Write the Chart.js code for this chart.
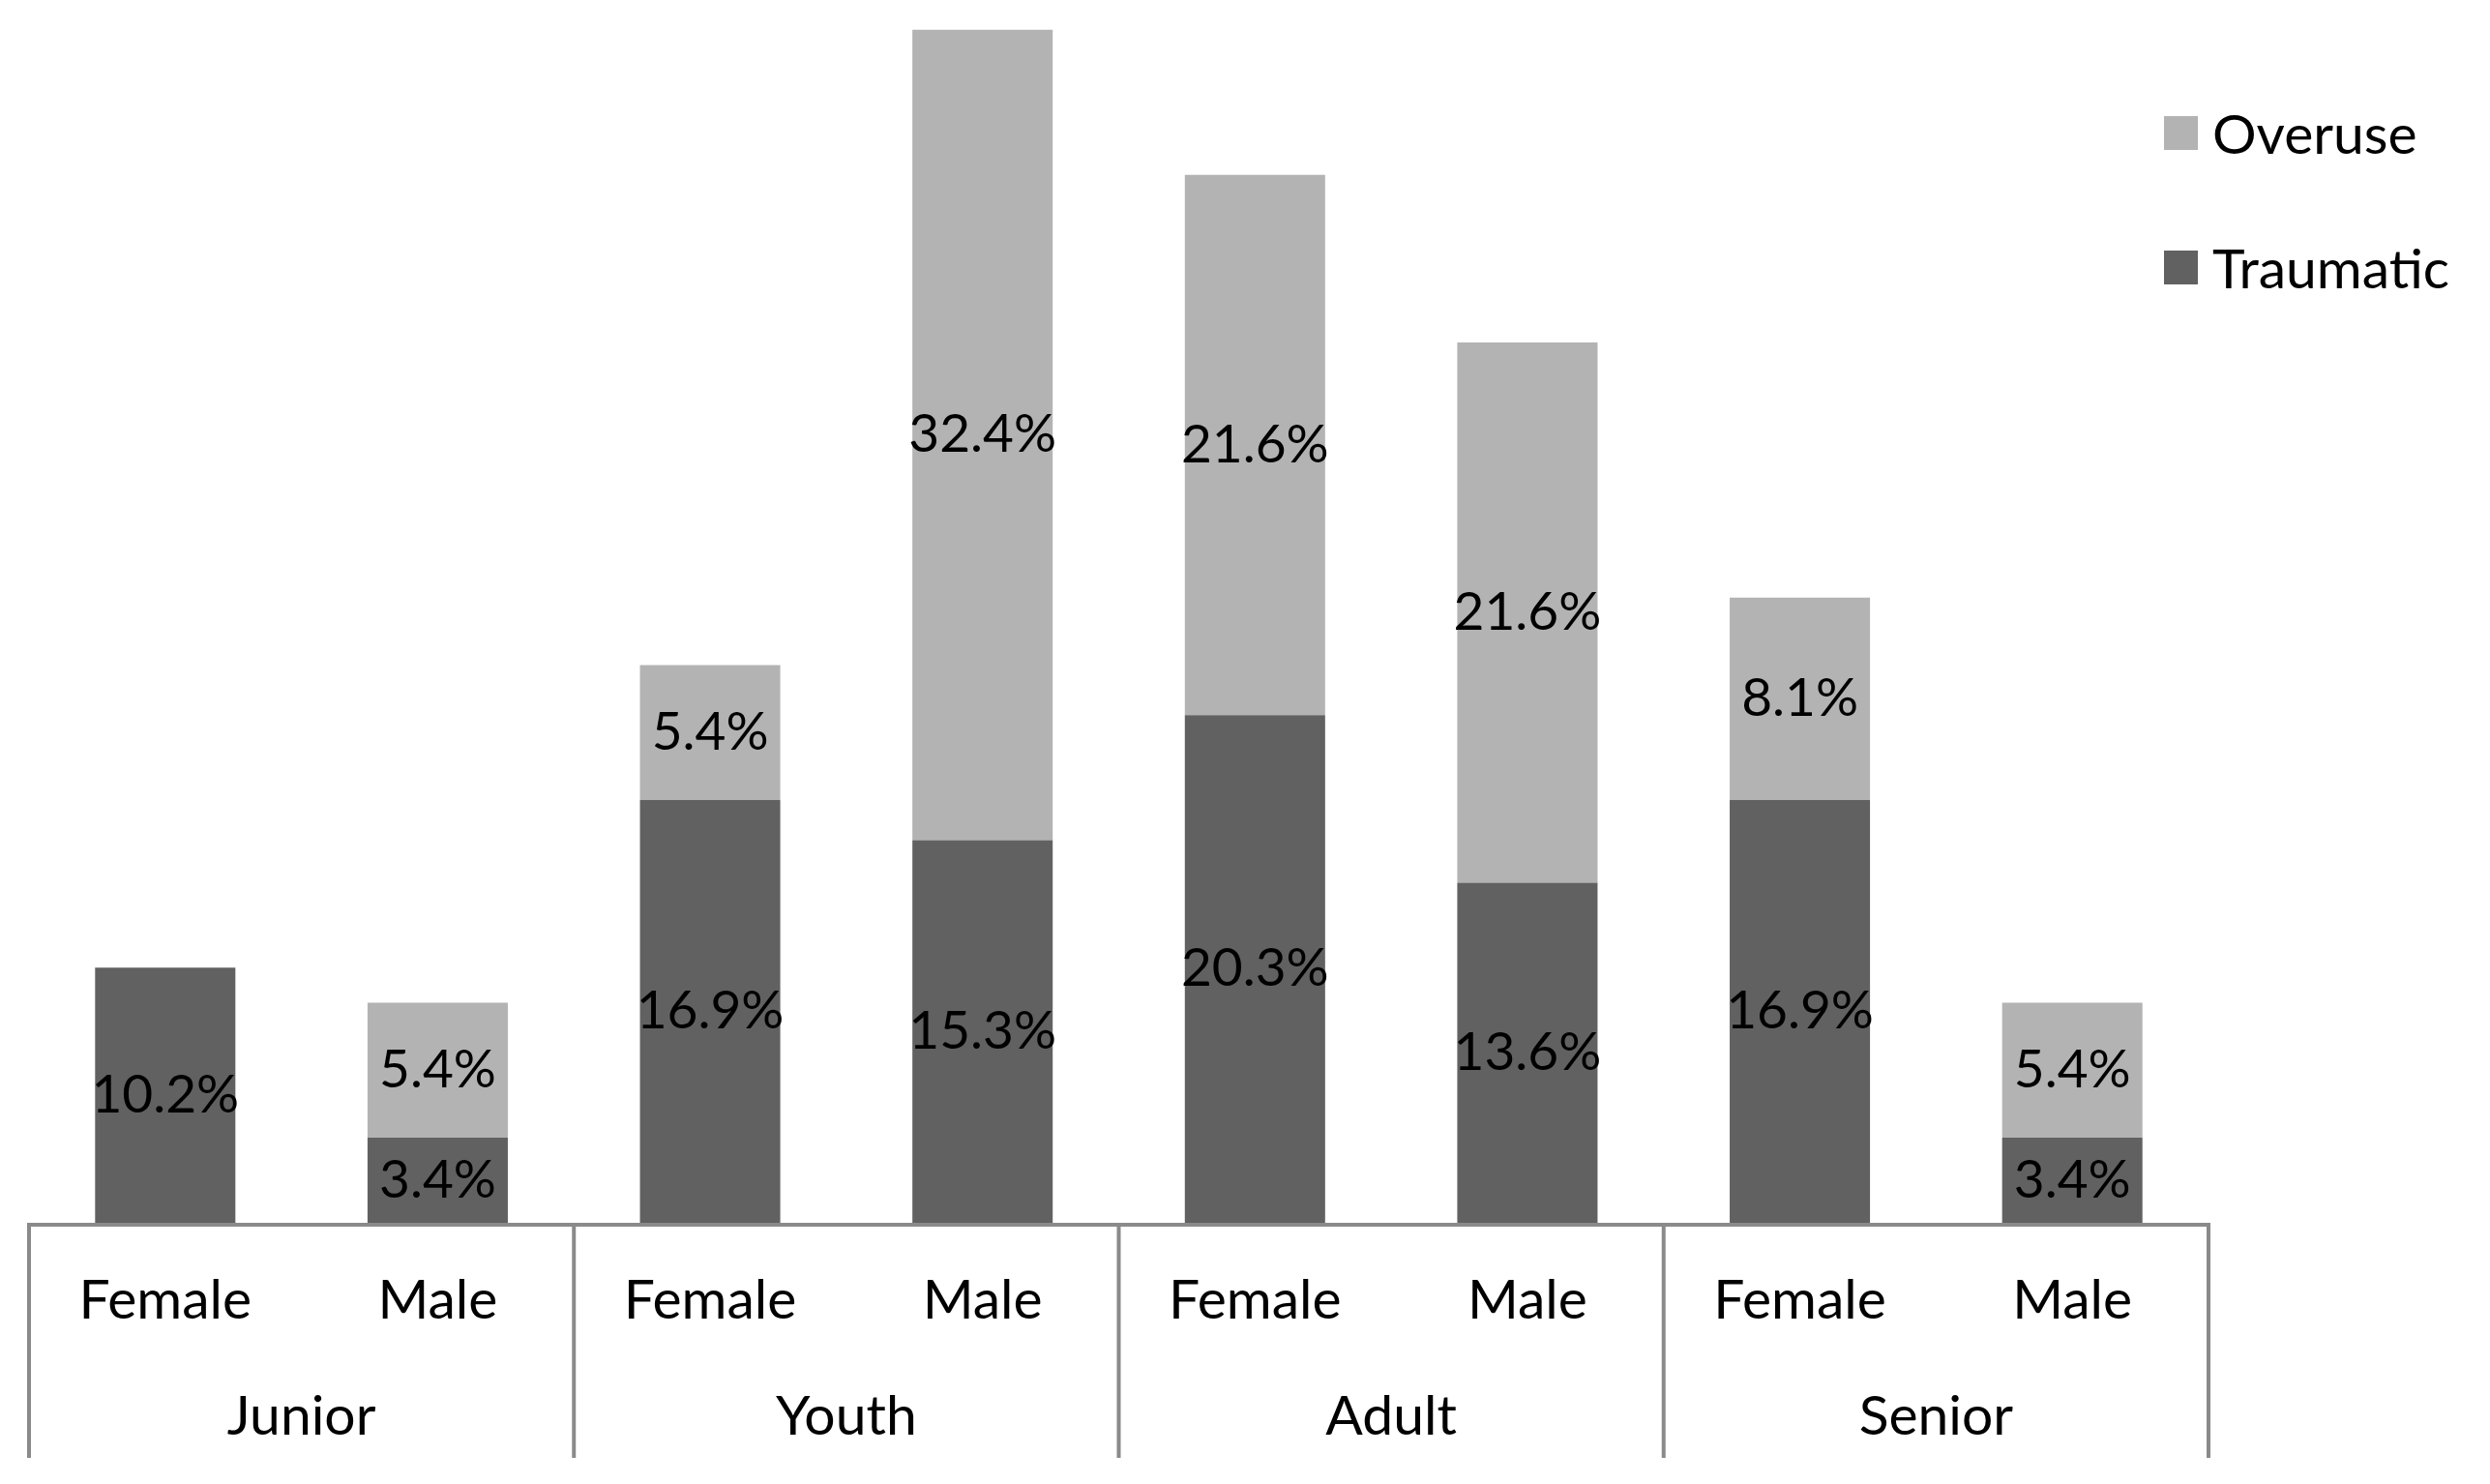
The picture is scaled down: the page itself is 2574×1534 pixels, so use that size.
<!DOCTYPE html>
<html>
<head>
<meta charset="utf-8">
<title>Injury type by age group and sex</title>
<script src="https://cdn.jsdelivr.net/npm/chart.js@4.4.1/dist/chart.umd.min.js"></script>
<style>
  html, body { margin: 0; padding: 0; background: #fff; }
  #wrap { position: relative; width: 2574px; height: 1534px; }
  #legend { position: absolute; left: 2237px; top: 105px; font-family: Lato, sans-serif; font-size: 57px; color: #000; }
  .item { display: flex; align-items: center; height: 64px; margin-bottom: 75px; white-space: nowrap; }
  .box { width: 35px; height: 35px; margin-right: 15px; }
</style>
</head>
<body>
<div id="wrap">
  <canvas id="chart"></canvas>
  <div id="legend"></div>
</div>
<script>
const sexes = ['Female', 'Male', 'Female', 'Male', 'Female', 'Male', 'Female', 'Male'];
const groups = ['Junior', 'Youth', 'Adult', 'Senior'];
const traumatic = [10.2, 3.4, 16.9, 15.3, 20.3, 13.6, 16.9, 3.4];
const overuse = [0, 5.4, 5.4, 32.4, 21.6, 21.6, 8.1, 5.4];
const seriesNames = ['Traumatic', 'Overuse'];
const seriesColors = ['#616161', '#b3b3b3'];

const FONT = 'Lato';
const LINE = '#8a8a8a';

// percent text in the middle of every segment
const segmentLabels = {
    id: 'segmentLabels',
    afterDatasetsDraw(chart) {
        const ctx = chart.ctx;
        ctx.save();
        ctx.font = '55px ' + FONT;
        ctx.fillStyle = '#000';
        ctx.textAlign = 'center';
        ctx.textBaseline = 'middle';
        chart.data.datasets.forEach((ds, i) => {
            chart.getDatasetMeta(i).data.forEach((bar, j) => {
                const v = ds.data[j];
                if (!v) return;
                ctx.fillText(v.toFixed(1) + '%', bar.x, (bar.y + bar.base) / 2);
            });
        });
        ctx.restore();
    }
};

// axis line + table-like separators under the bars
const groupLines = {
    id: 'groupLines',
    afterDraw(chart) {
        const ctx = chart.ctx;
        const x = chart.scales.x;
        const area = chart.chartArea;
        const y0 = area.bottom + 2;
        const bottom = chart.scales.x2.bottom;
        ctx.save();
        ctx.strokeStyle = LINE;
        ctx.lineWidth = 4;
        ctx.beginPath();
        ctx.moveTo(area.left - 2, y0);
        ctx.lineTo(area.right + 2, y0);
        const cuts = [area.left, area.right];
        for (let i = 2; i < sexes.length; i += 2) {
            cuts.push((x.getPixelForValue(i - 1) + x.getPixelForValue(i)) / 2);
        }
        cuts.forEach(cx => {
            ctx.moveTo(cx, y0);
            ctx.lineTo(cx, bottom);
        });
        ctx.stroke();
        ctx.restore();
    }
};

function buildLegend() {
    const el = document.getElementById('legend');
    // stacked series listed top-down
    for (let i = seriesNames.length - 1; i >= 0; i--) {
        const item = document.createElement('div');
        item.className = 'item';
        const box = document.createElement('span');
        box.className = 'box';
        box.style.background = seriesColors[i];
        const txt = document.createElement('span');
        txt.innerText = seriesNames[i];
        item.appendChild(box);
        item.appendChild(txt);
        el.appendChild(item);
    }
}

function drawChart() {
    const ctx = document.getElementById('chart').getContext('2d');
    new Chart(ctx, {
        type: 'bar',
        data: {
            labels: sexes,
            datasets: [
                { label: seriesNames[0], data: traumatic, backgroundColor: seriesColors[0] },
                { label: seriesNames[1], data: overuse, backgroundColor: seriesColors[1] }
            ]
        },
        options: {
            responsive: true, maintainAspectRatio: false,
            devicePixelRatio: 1,
            animation: false,
            layout: { padding: { left: 30, right: 291, top: 23, bottom: 27 } },
            datasets: { bar: { categoryPercentage: 1, barPercentage: 0.515 } },
            plugins: { legend: { display: false }, tooltip: { enabled: false } },
            scales: {
                y: { stacked: true, min: 0, max: 48, display: false },
                x: {
                    stacked: true,
                    border: { display: false },
                    grid: { display: false, drawTicks: false },
                    ticks: { color: '#000', font: { family: FONT, size: 57 }, padding: 46, autoSkip: false, maxRotation: 0 },
                    afterFit: (axis) => { axis.height = 140; }
                },
                x2: {
                    type: 'category',
                    labels: groups,
                    position: 'bottom',
                    offset: true,
                    border: { display: false },
                    grid: { display: false, drawTicks: false },
                    ticks: { color: '#000', font: { family: FONT, size: 57 }, padding: 26, autoSkip: false, maxRotation: 0 },
                    afterFit: (axis) => { axis.height = 103; }
                }
            }
        },
        plugins: [segmentLabels, groupLines]
    });
}

buildLegend();
document.fonts.load('57px ' + FONT).then(drawChart, drawChart);
</script>
</body>
</html>
